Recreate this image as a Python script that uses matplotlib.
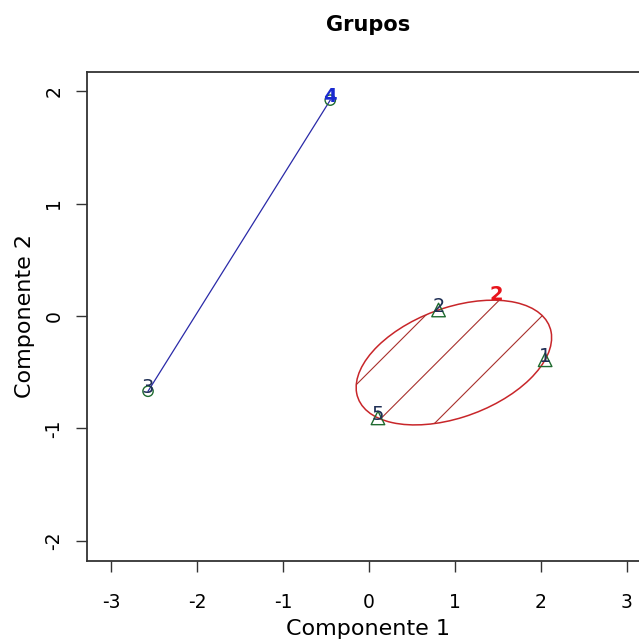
import numpy as np
import matplotlib
matplotlib.use("Agg")
import matplotlib.pyplot as plt
from matplotlib.patches import Ellipse
from matplotlib.transforms import IdentityTransform

# componentes principales de cada observacion
obs_labels = ["1", "2", "3", "4", "5"]
comp1 = [2.05, 0.81, -2.57, -0.45, 0.105]
comp2 = [-0.39, 0.053, -0.67, 1.92, -0.907]
grupo = [2, 2, 1, 1, 2]

xticks = [-3, -2, -1, 0, 1, 2, 3]
yticks = [-2, -1, 0, 1, 2]

plt.rcParams['font.family'] = ['DejaVu Sans']

fig = plt.figure(figsize=(6.39, 6.42), dpi=100)
ax = fig.add_axes([87/639, 81/642, 563/639, 489/642])
ax.set_xlim(-3.28, 3.27)
ax.set_ylim(-2.18, 2.17)

x = np.array(comp1)
y = np.array(comp2)
g = np.array(grupo)

# grupo 1: solo dos puntos, se une con un segmento
g1 = g == 1
ax.plot(x[g1], y[g1], color='#2a2aa8', lw=0.9, zorder=2)

# grupo 2: elipse que contiene sus puntos (centro = media)
g2 = g == 2
pts = np.column_stack([x[g2], y[g2]])
c = pts.mean(axis=0)
S = (pts - c).T @ (pts - c) / len(pts)
vals, vecs = np.linalg.eigh(S * 2)
ang = np.degrees(np.arctan2(vecs[1, 1], vecs[0, 1]))
ell = Ellipse(c, 2*np.sqrt(vals[1]), 2*np.sqrt(vals[0]), angle=ang,
              facecolor='none', edgecolor='#c8262a', lw=1.1, zorder=2)
ax.add_patch(ell)

# rayado de la elipse, lineas a 45 grados en pixeles
cx, cy = ax.transData.transform(c)
paso = 58.5
for k in range(-6, 7):
    off = -17 + k*paso
    t = np.array([-400, 400])
    ln = ax.plot(cx + off/2 + t, cy - off/2 + t, color='#a8302c', lw=0.8,
                 transform=IdentityTransform(), zorder=2)[0]
    ln.set_clip_path(ell)

# simbolos de los puntos
ax.scatter(x[g1], y[g1], marker='o', s=55, facecolors='none',
           edgecolors='#1f6b2f', lw=1.0, zorder=3)
ax.scatter(x[g2], y[g2], marker='^', s=95, facecolors='none',
           edgecolors='#1f6b2f', lw=1.0, zorder=3)

# etiquetas de los puntos
for lab, xi, yi in zip(obs_labels, x, y):
    col = '#1f2f55'
    if lab == "4":
        col = '#1a2ad0'
    ax.annotate(lab, (xi, yi), xytext=(0, 2.5), textcoords='offset points',
                ha='center', va='center', fontsize=14, color=col, zorder=4,
                fontweight='bold' if lab == "4" else 'normal')

# etiqueta del grupo 2 en la elipse
ax.annotate("2", (1.48, 0.19), ha='center', va='center', fontsize=14,
            color='#e8141c', fontweight='bold', zorder=4)

ax.set_xticks(xticks)
ax.set_yticks(yticks)
ax.set_xticklabels([str(v) for v in xticks])
ax.set_yticklabels([str(v) for v in yticks], rotation=90, va='center')
ax.tick_params(axis='x', length=8, width=1.0, pad=15, labelsize=13.5, color='#333333')
ax.tick_params(axis='y', length=8, width=1.0, pad=9, labelsize=13.5, color='#333333')
for sp in ax.spines.values():
    sp.set_linewidth(1.3)
    sp.set_color('#333333')

fig.text(368/639, 1 - 25/642, "Grupos", ha='center', va='center',
         fontsize=15, fontweight='bold')
fig.text(368/639, 1 - 629/642, "Componente 1", ha='center', va='center', fontsize=16)
fig.text(25/639, 1 - 316/642, "Componente 2", ha='center', va='center',
         fontsize=16, rotation=90)

fig.savefig("out.png", dpi=100)
